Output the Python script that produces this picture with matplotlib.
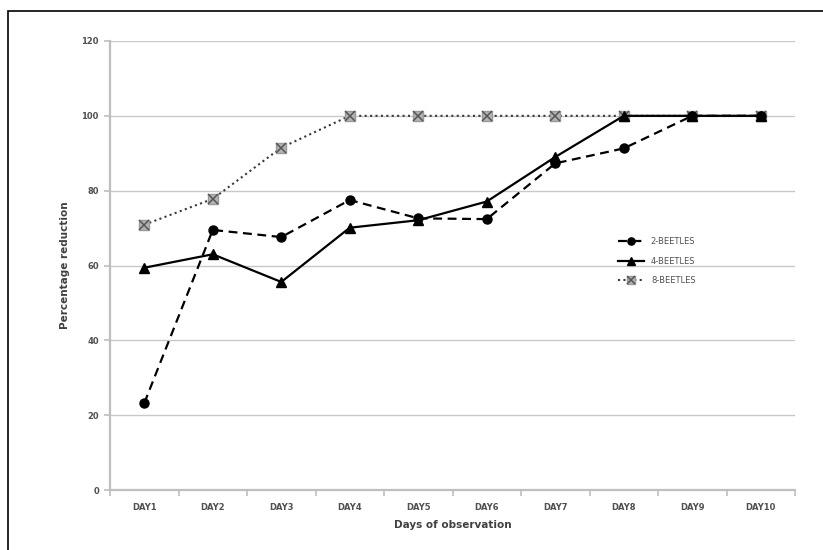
import numpy as np
import matplotlib
matplotlib.use("Agg")
import matplotlib.pyplot as plt
from matplotlib.patches import Rectangle

days = ['DAY1', 'DAY2', 'DAY3', 'DAY4', 'DAY5', 'DAY6', 'DAY7', 'DAY8', 'DAY9', 'DAY10']
beetles2 = [23.2, 69.5, 67.6, 77.5, 72.6, 72.4, 87.3, 91.3, 100, 100]
beetles4 = [59.4, 63.0, 55.6, 70.1, 72.1, 77.1, 89.0, 100, 100, 100]
beetles8 = [70.9, 77.8, 91.5, 100, 100, 100, 100, 100, 100, 100]
yticks = [0, 20, 40, 60, 80, 100, 120]

txt = '#505050'
axis_grey = '#bfbfbf'

fig = plt.figure(figsize=(8.23, 5.5), dpi=100)
ax = fig.add_axes([110/823, 1-490/550, 685/823, 449/550])

x = np.arange(1, len(days)+1)
l2, = ax.plot(x, beetles2, color='black', ls=(0, (4, 2.5)), lw=1.6,
              marker='o', ms=6.5, zorder=3)
l4, = ax.plot(x, beetles4, color='black', ls='-', lw=1.6,
              marker='^', ms=6.5, zorder=4)
l8, = ax.plot(x, beetles8, color='#3a3a3a', ls=(0, (1, 1.6)), lw=1.5,
              marker='s', ms=6.5, mfc='#b4b4b4', mec='#9a9a9a', zorder=2)
l8x, = ax.plot(x, beetles8, ls='none', marker='x', ms=6.5, mec='#555555',
               mew=1.1, zorder=2)

ax.set_xlim(0.5, len(days)+0.5)
ax.set_ylim(0, 120)
ax.set_yticks(yticks)
ax.set_yticklabels([str(v) for v in yticks], fontsize=6, color=txt, fontweight='bold')
ax.set_xticks(x)
ax.set_xticklabels(days, fontsize=6, color=txt, fontweight='bold')
ax.set_xticks(np.arange(0.5, len(days)+1), minor=True)
ax.tick_params(axis='x', which='major', length=0, pad=9)
ax.tick_params(axis='x', which='minor', length=4, color=axis_grey, width=1.2)
ax.tick_params(axis='y', length=4, color=axis_grey, width=1.2, pad=4)

ax.yaxis.grid(True, color='#c8c8c8', lw=1.0)
ax.set_axisbelow(True)
for s in ['top', 'right']:
    ax.spines[s].set_visible(False)
for s in ['left', 'bottom']:
    ax.spines[s].set_color(axis_grey)
    ax.spines[s].set_linewidth(1.6)

ax.set_xlabel('Days of observation', fontsize=7.5, color='#404040', fontweight='bold', labelpad=6)
ax.set_ylabel('Percentage reduction', fontsize=7.5, color='#404040', fontweight='bold', labelpad=8)

leg = ax.legend([l2, l4, (l8, l8x)], ['2-BEETLES', '4-BEETLES', '8-BEETLES'],
                loc='center left', bbox_to_anchor=(0.73, 0.51), frameon=False,
                fontsize=6, handlelength=3.2, labelspacing=1.3, markerscale=0.8)
for t in leg.get_texts():
    t.set_color(txt)

# outer frame (only left and top visible in the reference)
fig.patches.append(Rectangle((8/823, -0.05), 1.0, 1-11/550+0.05, transform=fig.transFigure,
                             fill=False, ec='black', lw=1.2, clip_on=False))

fig.savefig('out.png', dpi=100)
